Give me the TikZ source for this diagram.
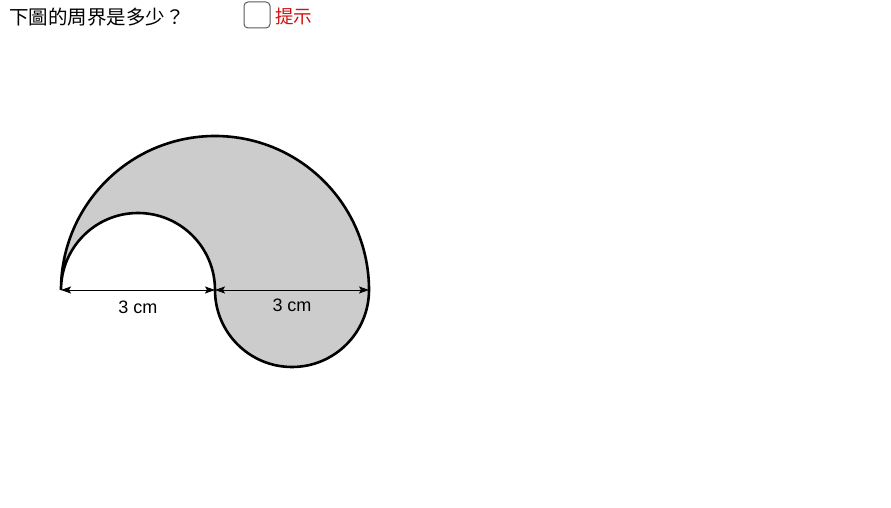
\documentclass[tikz,border=0pt]{standalone}
\usepackage{fontspec}
\setmainfont{Liberation Sans}
\newfontfamily\cjk{Noto Sans CJK TC}
\usetikzlibrary{arrows.meta}
\definecolor{shadegray}{HTML}{CCCCCC}
\definecolor{hintred}{HTML}{D01010}
\tikzset{
	dimline/.style={{Stealth[length=10pt,width=7pt,inset=2pt]}-{Stealth[length=10pt,width=7pt,inset=2pt]}, line width=0.9pt},
	dimlabel/.style={font=\fontsize{18}{18}\selectfont, inner sep=0pt}
}
\begin{document}
\begin{tikzpicture}[x=1pt, y=1pt]
		\useasboundingbox (0,0) rectangle (891,508);
		% question and hint box
		\node[anchor=west, font=\cjk\fontsize{19.5}{20}\selectfont, inner sep=0pt] (question) at (9,491) {下圖的周界是多少？};
		\draw[gray!70!black, line width=1pt, rounded corners=4pt] (244,480) rectangle (270,506);
		\node[anchor=west, text=hintred, font=\cjk\fontsize{18.5}{19}\selectfont, inner sep=0pt] (hint) at (275,492) {提示};
		
		% shape
		\coordinate (left) at (61,218);
		\coordinate (mid) at (215,218);
		\coordinate (right) at (369,218);
		\filldraw[fill=shadegray, draw=black, line width=2.6pt]
			(left) arc[start angle=180, end angle=0, radius=154]
			arc[start angle=0, end angle=-180, radius=77]
			arc[start angle=0, end angle=180, radius=77] -- cycle;
		
		% dimensions
		\draw[dimline] (left) -- (mid);
		\draw[dimline] (mid) -- (right);
		\node[dimlabel] (width left) at (138,201) {3 cm};
		\node[dimlabel] (width right) at (292,203) {3 cm};
	\end{tikzpicture}
\end{document}
